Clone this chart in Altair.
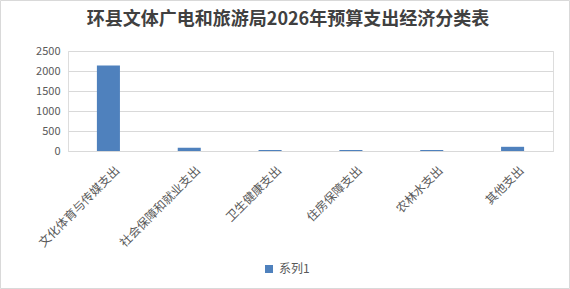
import altair as alt
import pandas as pd

title_text = "环县文体广电和旅游局2026年预算支出经济分类表"
categories = ["文化体育与传媒支出", "社会保障和就业支出", "卫生健康支出", "住房保障支出", "农林水支出", "其他支出"]
values = [2140, 80, 25, 25, 25, 105]
series = ["系列1"] * len(categories)

df = pd.DataFrame({"类别": categories, "值": values, "系列": series})
one_df = pd.DataFrame({"t": [title_text]})

FONT = "Noto Sans CJK SC"
GRAY = "#595959"

bars = alt.Chart(df).mark_bar(color="#4F81BD").encode(
    x=alt.X("类别:N", sort=categories, title=None,
            scale=alt.Scale(paddingInner=0.715, paddingOuter=0.3575),
            axis=alt.Axis(labelAngle=-45, labelAlign="right", labelBaseline="middle",
                          labelPadding=17, labelOffset=9, ticks=False, domainColor="#d9d9d9",
                          labelColor=GRAY, labelFont=FONT, labelFontSize=12,
                          grid=False)),
    y=alt.Y("值:Q", title=None,
            scale=alt.Scale(domain=[0, 2500]),
            axis=alt.Axis(values=[0, 500, 1000, 1500, 2000, 2500], format="d", ticks=False, domain=False,
                          gridColor="#d9d9d9", labelPadding=8, labelColor=GRAY,
                          labelFont=FONT, labelFontSize=11)),
    color=alt.Color("系列:N", scale=alt.Scale(range=["#4F81BD"]),
                    legend=alt.Legend(title=None, orient="none", legendX=195, legendY=212,
                                      symbolType="square", symbolSize=64, symbolStrokeWidth=0,
                                      labelFont=FONT, labelFontSize=12, labelColor=GRAY,
                                      padding=0)),
)

border = alt.Chart(one_df).mark_rect(fill=None, stroke="#d9d9d9", strokeWidth=1).encode(
    x=alt.value(-67.5), x2=alt.value(501.5), y=alt.value(-50.5), y2=alt.value(237.5)
)

title = alt.Chart(one_df).mark_text(font=FONT, fontSize=18, fontWeight="bold", color="#404040",
                                     align="center", baseline="middle").encode(
    text="t:N", x=alt.value(220), y=alt.value(-31)
)

chart = alt.layer(border, title, bars).properties(
    width=485, height=100,
    autosize=alt.AutoSizeParams(type="none"),
    padding={"left": 68, "top": 51, "right": 17, "bottom": 138},
).configure_view(stroke=None).configure(background="white")

chart.save("out.html", embed_options={"renderer": "svg", "actions": False})
